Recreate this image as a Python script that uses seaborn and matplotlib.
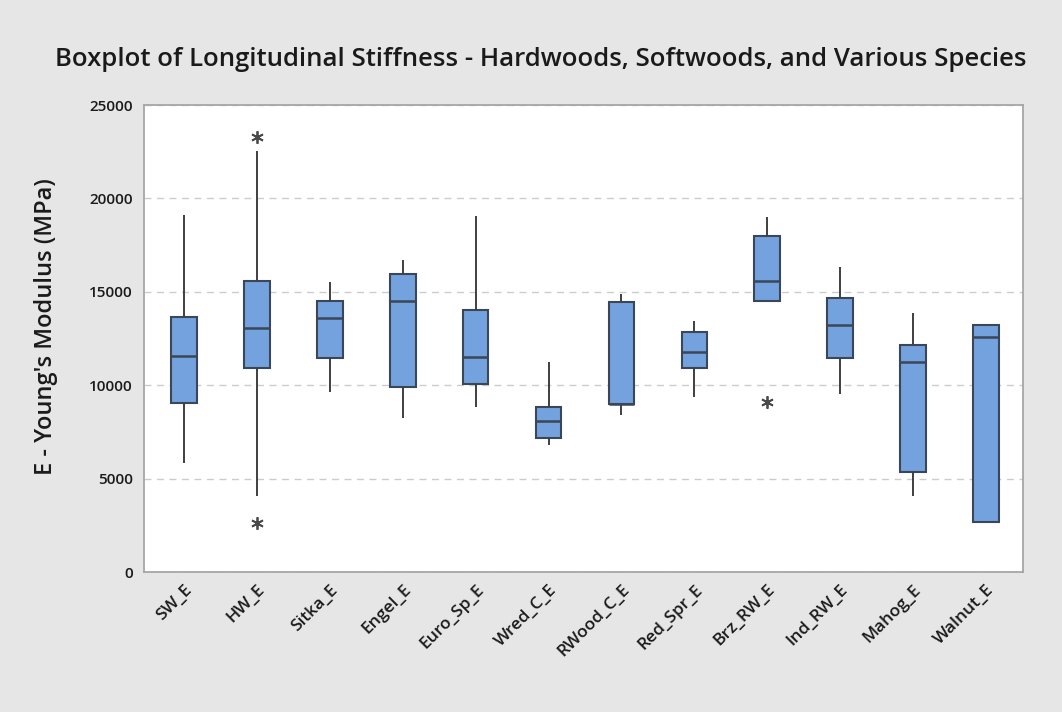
import pandas as pd
import matplotlib.pyplot as plt
import seaborn as sns

# Five-number summaries (MPa)
samples = ['SW_E', 'HW_E', 'Sitka_E', 'Engel_E', 'Euro_Sp_E', 'Wred_C_E',
           'RWood_C_E', 'Red_Spr_E', 'Brz_RW_E', 'Ind_RW_E', 'Mahog_E', 'Walnut_E']
whisker_low = [5830, 4070, 9640, 8240, 8830, 6800, 8400, 9370, 14510, 9530, 4070, 2680]
q1 = [9050, 10920, 11460, 9900, 10060, 7170, 8990, 10920, 14510, 11460, 5350, 2680]
median = [11560, 13060, 13600, 14510, 11510, 8080, 8990, 11780, 15580, 13220, 11240, 12580]
q3 = [13650, 15580, 14510, 15950, 14030, 8830, 14450, 12850, 17990, 14670, 12150, 13220]
whisker_high = [19110, 22540, 15520, 16700, 19060, 11240, 14880, 13440, 19000, 16330, 13860, 13220]
outliers_low = {'HW_E': [2620], 'Brz_RW_E': [9100]}
outliers_high = {'HW_E': [23290]}

# Build a small sample per group whose quartiles/whiskers reproduce the summary
rows = []
for i, name in enumerate(samples):
    vals = [whisker_low[i], q1[i], q1[i], median[i], q3[i], q3[i], whisker_high[i]]
    lo = outliers_low.get(name, [])
    hi = outliers_high.get(name, [])
    vals += lo + hi
    pad = len(lo) - len(hi)
    if pad > 0:
        vals += [whisker_high[i]] * pad
    elif pad < 0:
        vals += [whisker_low[i]] * (-pad)
    rows += [(name, v) for v in vals]
df = pd.DataFrame(rows, columns=['Sample', 'E'])

sns.set_style('white')
plt.rcParams['font.family'] = ['Open Sans', 'DejaVu Sans']

fig = plt.figure(figsize=(10.62, 7.12), dpi=100, facecolor='#E6E6E6')
ax = fig.add_axes([0.1356, 0.1966, 0.8277, 0.6559])
ax.set_facecolor('white')

sns.boxplot(data=df, x='Sample', y='E', order=samples, ax=ax, width=0.35,
            color='#74A2DE', saturation=1, linecolor='#3B4656', linewidth=1.3, whis=1.5,
            showcaps=False,
            boxprops=dict(edgecolor='#3B4656', linewidth=1.5),
            medianprops=dict(color='#3B4656', linewidth=1.8),
            whiskerprops=dict(color='#3F3F3F', linewidth=1.4),
            flierprops=dict(marker=(6, 2, 0), markersize=9, markeredgecolor='#4A4A4A',
                            markeredgewidth=1.3, markerfacecolor='none'))

ax.set_ylim(0, 25000)
ax.set_xlim(-0.55, 11.51)
ax.set_yticks([0, 5000, 10000, 15000, 20000, 25000])
ax.yaxis.grid(True, linestyle=(0, (5, 4)), color='#CCCCCC', linewidth=1)
ax.set_axisbelow(True)

for s in ax.spines.values():
    s.set_color('#A6A6A6')
    s.set_linewidth(1.3)
ax.tick_params(axis='both', direction='out', length=5, color='#A6A6A6', width=1)
ax.tick_params(axis='y', labelsize=11, pad=3, labelcolor='#1A1A1A')
ax.tick_params(axis='x', labelsize=12.5, pad=2, labelcolor='#1A1A1A')
for lab in ax.get_yticklabels():
    lab.set_fontweight('semibold')
plt.setp(ax.get_xticklabels(), rotation=45, ha='right', rotation_mode='anchor',
         fontweight='semibold')

ax.set_xlabel('')
ax.set_ylabel("E - Young's Modulus (MPa)", fontsize=17, fontweight='semibold', color='#1A1A1A')
ax.yaxis.set_label_coords(-0.098, 0.525)
fig.text(0.509, 0.916, 'Boxplot of Longitudinal Stiffness - Hardwoods, Softwoods, and Various Species',
         ha='center', va='center', fontsize=18.5, fontweight='semibold', color='#1A1A1A')

fig.savefig('out.png', dpi=100, facecolor=fig.get_facecolor())
